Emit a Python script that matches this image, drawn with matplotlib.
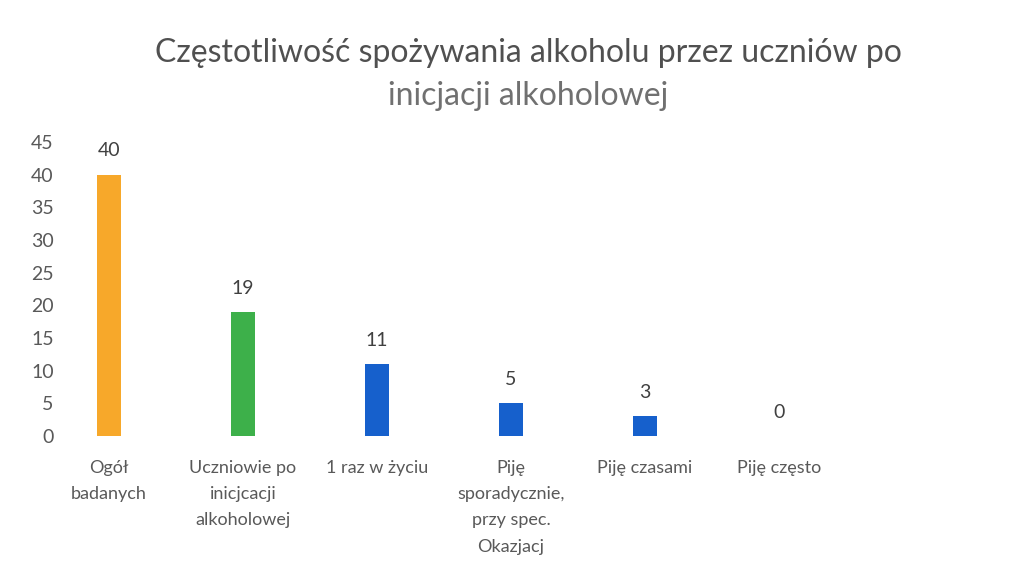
import matplotlib
matplotlib.use("Agg")
import matplotlib.pyplot as plt

categories = ["Ogół\nbadanych", "Uczniowie po\ninicjcacji\nalkoholowej", "1 raz w życiu",
              "Piję\nsporadycznie,\nprzy spec.\nOkazjacj", "Piję czasami", "Piję często"]
values = [40, 19, 11, 5, 3, 0]
colors = ["#F7A82A", "#3DB04A", "#1660CC", "#1660CC", "#1660CC", "#1660CC"]
yticks = [0, 5, 10, 15, 20, 25, 30, 35, 40, 45]
title_line1 = "Częstotliwość spożywania alkoholu przez uczniów po"
title_line2 = "inicjacji alkoholowej"

W, H = 1027, 581
fig = plt.figure(figsize=(W / 100, H / 100), dpi=100)
fig.patch.set_facecolor("white")
plt.rcParams["font.family"] = ["Lato", "DejaVu Sans"]

left_px, right_px = 62, 900
bottom_px, top_px = 436, 142
ax = fig.add_axes([left_px / W, (H - bottom_px) / H, (right_px - left_px) / W, (bottom_px - top_px) / H])
x = list(range(len(values)))
ax.bar(x, values, width=0.175, color=colors)
# category centre pixel = 109 + 134*i
ax.set_xlim((left_px - 109) / 134, (right_px - 109) / 134)
ax.set_ylim(0, 45)
ax.set_yticks(yticks)
ax.set_yticklabels([str(t) for t in yticks], fontsize=14, color="#595959")
ax.tick_params(axis="y", length=0, pad=6)
ax.set_xticks(x)
ax.set_xticklabels(categories, fontsize=13, color="#595959", linespacing=1.8, va="top")
ax.tick_params(axis="x", length=0, pad=17)
for s in ax.spines.values():
    s.set_visible(False)
ax.set_facecolor("none")

for xi, v in zip(x, values):
    ax.annotate(str(v), (xi, v), xytext=(0, 11), textcoords="offset points",
                ha="center", va="bottom", fontsize=14, color="#404040")

fig.text(528 / W, 1 - 53 / H, title_line1, ha="center", va="center", fontsize=23, color="#505050")
fig.text(528 / W, 1 - 96 / H, title_line2, ha="center", va="center", fontsize=23, color="#707070")

fig.savefig("out.png", dpi=100)
